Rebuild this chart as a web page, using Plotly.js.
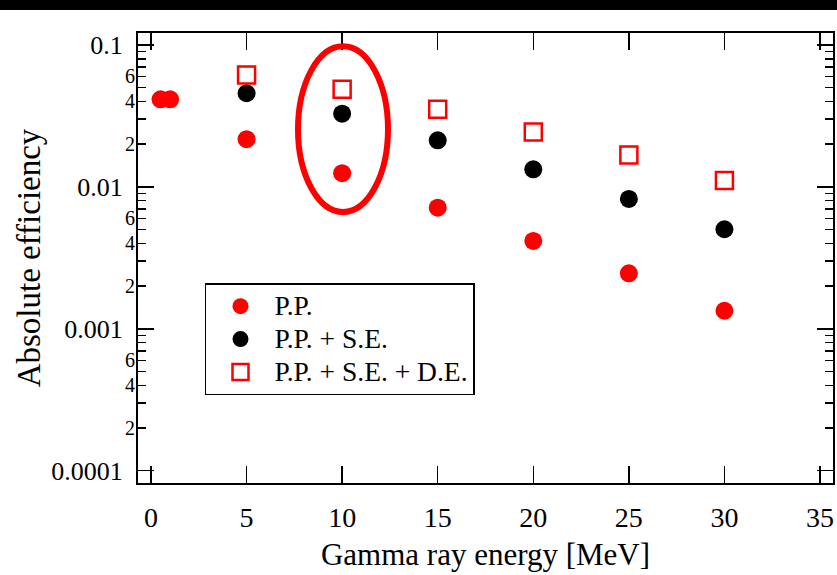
<!DOCTYPE html>
<html>
<head>
<meta charset="utf-8">
<script src="https://cdn.plot.ly/plotly-3.0.1.min.js"></script>
<style>html,body{margin:0;padding:0;background:#fff;}#chart{width:837px;height:575px;}</style>
</head>
<body>
<div id="chart"></div>
<script>
// ---- data ----
const energyPP = [0.5, 1, 5, 10, 15, 20, 25, 30];
const effPP = [0.0414, 0.0414, 0.0217, 0.0125, 0.00714, 0.00416, 0.00246, 0.00134];
const energySE = [5, 10, 15, 20, 25, 30];
const effPPSE = [0.0457, 0.0328, 0.0213, 0.0133, 0.00822, 0.00503];
const effPPSEDE = [0.0615, 0.0487, 0.0352, 0.0244, 0.0168, 0.0111];
const seriesNames = ['P.P.', 'P.P. + S.E.', 'P.P. + S.E. + D.E.'];
const xTicks = [0, 5, 10, 15, 20, 25, 30, 35];
const decadeTicks = [0.1, 0.01, 0.001, 0.0001];
const decadeLabels = ['0.1', '0.01', '0.001', '0.0001'];
const minorTicks = [0.09, 0.08, 0.07, 0.06, 0.05, 0.04, 0.03, 0.02,
  0.009, 0.008, 0.007, 0.006, 0.005, 0.004, 0.003, 0.002,
  0.0009, 0.0008, 0.0007, 0.0006, 0.0005, 0.0004, 0.0003, 0.0002];
const minorLabels = ['', '', '', '6', '', '4', '', '2',
  '', '', '', '6', '', '4', '', '2',
  '', '', '', '6', '', '4', '', '2'];

const FONT = '"Liberation Serif", "Times New Roman", serif';
const legendName = t => '<span style="font-size:27.5px">' + t + '</span>';

const traces = [
  {x: energyPP, y: effPP, name: legendName(seriesNames[0]), type: 'scatter', mode: 'markers',
   yaxis: 'y3', marker: {color: '#ff0000', size: 18, symbol: 'circle'}},
  {x: energySE, y: effPPSE, name: legendName(seriesNames[1]), type: 'scatter', mode: 'markers',
   marker: {color: '#000000', size: 18, symbol: 'circle'}},
  {x: energySE, y: effPPSEDE, name: legendName(seriesNames[2]), type: 'scatter', mode: 'markers',
   marker: {color: '#ff0000', size: 17, symbol: 'square-open', line: {color: '#ff0000', width: 2.5}}}
];

const yRange = [-4.0867, -0.9154];
const layout = {
  width: 837, height: 575,
  margin: {l: 138, r: 4, t: 33, b: 92},
  paper_bgcolor: '#ffffff', plot_bgcolor: '#ffffff',
  font: {family: FONT, color: '#000', size: 26},
  showlegend: true,
  legend: {x: 0.0964, y: 0.444, xanchor: 'left', yanchor: 'top',
    bordercolor: '#000', borderwidth: 1.5, bgcolor: '#fff',
    font: {family: FONT, size: 23, color: '#000'}, itemwidth: 58},
  xaxis: {
    range: [-0.68, 35.68], tickvals: xTicks, ticktext: xTicks.map(String),
    ticks: 'inside', ticklen: 17, tickwidth: 1.5, tickcolor: '#000',
    showline: true, linecolor: '#000', linewidth: 2, mirror: 'ticks',
    showgrid: false, zeroline: false,
    tickfont: {family: FONT, size: 28, color: '#000'}, ticklabelstandoff: 8,
    title: {text: 'Gamma ray energy [MeV]', font: {family: FONT, size: 31, color: '#000'}, standoff: 12}
  },
  yaxis: {
    type: 'log', range: yRange,
    tickvals: decadeTicks, ticktext: decadeLabels,
    ticks: 'inside', ticklen: 16, tickwidth: 1.5, tickcolor: '#000',
    showline: true, linecolor: '#000', linewidth: 2, mirror: 'ticks',
    showgrid: false, zeroline: false,
    tickfont: {family: FONT, size: 26, color: '#000'}, ticklabelstandoff: 8,
    title: {text: 'Absolute efficiency', font: {family: FONT, size: 33, color: '#000'}, standoff: 1}
  },
  yaxis3: {
    type: 'log', range: yRange, overlaying: 'y', side: 'left', anchor: 'x',
    tickvals: minorTicks, ticktext: minorLabels,
    ticks: 'inside', ticklen: 8, tickwidth: 1.5, tickcolor: '#000', mirror: 'ticks',
    showline: false, showgrid: false, zeroline: false,
    tickfont: {family: FONT, size: 20, color: '#000'}, ticklabelstandoff: 2
  },
  shapes: [
    {type: 'rect', xref: 'paper', yref: 'paper', x0: -0.2, x1: 1.01, y0: 1.0511, y1: 1.08,
     fillcolor: '#000', line: {width: 0}},
    {type: 'circle', xref: 'paper', yref: 'paper', x0: 0.2302, x1: 0.3597, y0: 0.6022, y1: 0.9704,
     line: {color: '#ff0000', width: 6}, fillcolor: 'rgba(0,0,0,0)'}
  ]
};

Plotly.newPlot('chart', traces, layout, {displayModeBar: false, staticPlot: true});
</script>
</body>
</html>
